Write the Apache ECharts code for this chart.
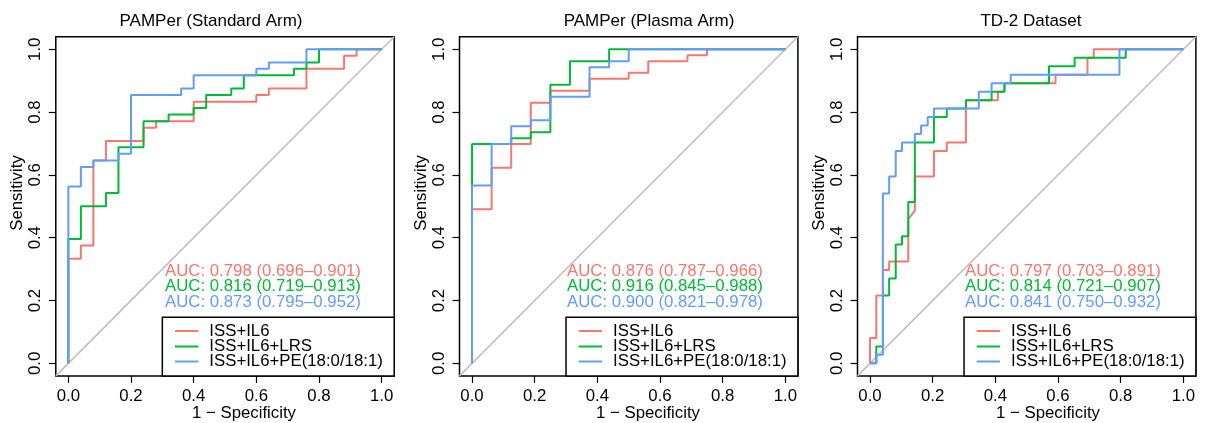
<!DOCTYPE html>
<html>
<head>
<meta charset="utf-8">
<script src="https://cdn.jsdelivr.net/npm/echarts@6/dist/echarts.min.js"></script>
<style>
html,body{margin:0;padding:0;background:#fff;}
#chart{width:1206px;height:423px;}
</style>
</head>
<body>
<div id="chart"></div>
<script>
// ---------------- data ----------------
const panelTitles = ['PAMPer (Standard Arm)', 'PAMPer (Plasma Arm)', 'TD-2 Dataset'];
const modelNames = ['ISS+IL6', 'ISS+IL6+LRS', 'ISS+IL6+PE(18:0/18:1)'];
const tickValues = [0, 0.2, 0.4, 0.6, 0.8, 1.0];
const xAxisName = '1 \u2212 Specificity';
const yAxisName = 'Sensitivity';

const aucText1 = ['AUC: 0.798 (0.696\u20130.901)', 'AUC: 0.816 (0.719\u20130.913)', 'AUC: 0.873 (0.795\u20130.952)'];
const aucText2 = ['AUC: 0.876 (0.787\u20130.966)', 'AUC: 0.916 (0.845\u20130.988)', 'AUC: 0.900 (0.821\u20130.978)'];
const aucText3 = ['AUC: 0.797 (0.703\u20130.891)', 'AUC: 0.814 (0.721\u20130.907)', 'AUC: 0.841 (0.750\u20130.932)'];

// ROC coordinates [1 - specificity, sensitivity]
const p1Red = [[0,0],[0,0.333],[0.04,0.333],[0.04,0.375],[0.08,0.375],[0.08,0.646],[0.12,0.646],[0.12,0.708],[0.24,0.708],[0.24,0.75],[0.28,0.75],[0.28,0.771],[0.40,0.771],[0.40,0.833],[0.60,0.833],[0.60,0.854],[0.64,0.854],[0.64,0.875],[0.76,0.875],[0.76,0.938],[0.88,0.938],[0.88,0.979],[0.92,0.979],[0.92,1],[1,1]];
const p1Green = [[0,0],[0,0.396],[0.04,0.396],[0.04,0.5],[0.12,0.5],[0.12,0.542],[0.16,0.542],[0.16,0.688],[0.24,0.688],[0.24,0.771],[0.32,0.771],[0.32,0.792],[0.40,0.792],[0.40,0.813],[0.44,0.813],[0.44,0.854],[0.52,0.854],[0.52,0.875],[0.56,0.875],[0.56,0.917],[0.72,0.917],[0.72,0.938],[0.76,0.938],[0.76,0.958],[0.80,0.958],[0.80,1],[1,1]];
const p1Blue = [[0,0],[0,0.563],[0.04,0.563],[0.04,0.625],[0.08,0.625],[0.08,0.646],[0.16,0.646],[0.16,0.667],[0.20,0.667],[0.20,0.854],[0.36,0.854],[0.36,0.875],[0.40,0.875],[0.40,0.917],[0.60,0.917],[0.60,0.938],[0.64,0.938],[0.64,0.958],[0.76,0.958],[0.76,1],[1,1]];

const p2Red = [[0,0],[0,0.491],[0.0625,0.491],[0.0625,0.623],[0.125,0.623],[0.125,0.698],[0.1875,0.698],[0.1875,0.830],[0.25,0.830],[0.25,0.868],[0.375,0.868],[0.375,0.906],[0.5,0.906],[0.5,0.925],[0.5625,0.925],[0.5625,0.962],[0.6875,0.962],[0.6875,0.981],[0.75,0.981],[0.75,1],[1,1]];
const p2Green = [[0,0],[0,0.698],[0.125,0.698],[0.125,0.717],[0.1875,0.717],[0.1875,0.736],[0.25,0.736],[0.25,0.887],[0.3125,0.887],[0.3125,0.962],[0.4375,0.962],[0.4375,1],[1,1]];
const p2Blue = [[0,0],[0,0.566],[0.0625,0.566],[0.0625,0.698],[0.125,0.698],[0.125,0.755],[0.1875,0.755],[0.1875,0.774],[0.25,0.774],[0.25,0.849],[0.375,0.849],[0.375,0.943],[0.4375,0.943],[0.4375,0.962],[0.5,0.962],[0.5,1],[1,1]];

const p3Red = [[0,0],[0,0.081],[0.020,0.081],[0.020,0.216],[0.041,0.216],[0.041,0.297],[0.061,0.297],[0.061,0.324],[0.122,0.324],[0.122,0.459],[0.143,0.486],[0.143,0.595],[0.204,0.595],[0.204,0.676],[0.245,0.676],[0.245,0.703],[0.306,0.703],[0.306,0.838],[0.408,0.838],[0.408,0.865],[0.429,0.865],[0.429,0.892],[0.592,0.892],[0.592,0.919],[0.694,0.919],[0.694,0.973],[0.714,0.973],[0.714,1],[1,1]];
const p3Green = [[0,0],[0.020,0],[0.020,0.054],[0.041,0.054],[0.041,0.216],[0.061,0.216],[0.061,0.270],[0.082,0.270],[0.082,0.378],[0.102,0.378],[0.102,0.405],[0.122,0.405],[0.122,0.514],[0.143,0.514],[0.143,0.703],[0.204,0.703],[0.204,0.784],[0.245,0.784],[0.245,0.811],[0.306,0.811],[0.306,0.838],[0.388,0.838],[0.388,0.865],[0.429,0.865],[0.429,0.892],[0.571,0.892],[0.571,0.946],[0.653,0.946],[0.653,0.973],[0.816,0.973],[0.816,1],[1,1]];
const p3Blue = [[0,0],[0.020,0],[0.020,0.027],[0.041,0.027],[0.041,0.541],[0.061,0.541],[0.061,0.595],[0.082,0.595],[0.082,0.676],[0.102,0.676],[0.102,0.703],[0.143,0.703],[0.143,0.730],[0.163,0.730],[0.163,0.757],[0.184,0.757],[0.184,0.784],[0.204,0.784],[0.204,0.811],[0.347,0.811],[0.347,0.865],[0.388,0.865],[0.388,0.892],[0.449,0.892],[0.449,0.919],[0.796,0.919],[0.796,1],[1,1]];

// ---------------- styling / layout ----------------
const COLORS = ['#F8766D', '#00BA38', '#619CFF'];
const FONT = '"Liberation Sans", Arial, Helvetica, sans-serif';
const FS = 16.8;
const AX_MIN = -0.04, AX_MAX = 1.04;

const panels = [
  {left: 55.8, titleX: 211, xlabX: 244, curves: [p1Red, p1Green, p1Blue], auc: aucText1, aucDx: 96.7},
  {left: 459.5, titleX: 649, xlabX: 648, curves: [p2Red, p2Green, p2Blue], auc: aucText2, aucDx: 95},
  {left: 857.5, titleX: 1031, xlabX: 1048, curves: [p3Red, p3Green, p3Blue], auc: aucText3, aucDx: 95}
];
const GRID_TOP = 36.7, GRID_W = 338.4, GRID_H = 339.2;
const pxPerUnit = GRID_W / (AX_MAX - AX_MIN);

const grids = [], xAxes = [], yAxes = [], series = [], graphics = [];

panels.forEach((p, i) => {
  grids.push({left: p.left, top: GRID_TOP, width: GRID_W, height: GRID_H,
    show: true, borderColor: '#000', borderWidth: 1.5, backgroundColor: 'transparent'});
  xAxes.push({gridIndex: i, type: 'value', min: AX_MIN, max: AX_MAX, position: 'bottom',
    axisLine: {show: false, onZero: false}, splitLine: {show: false},
    axisTick: {show: true, inside: false, length: 7, customValues: tickValues, lineStyle: {color: '#000', width: 1.2}},
    axisLabel: {show: true, customValues: tickValues, margin: 12, color: '#000', fontFamily: FONT, fontSize: FS,
      formatter: v => v.toFixed(1)}});
  yAxes.push({gridIndex: i, type: 'value', min: AX_MIN, max: AX_MAX, position: 'left',
    axisLine: {show: false, onZero: false}, splitLine: {show: false},
    axisTick: {show: true, inside: false, length: 7, customValues: tickValues, lineStyle: {color: '#000', width: 1.2}},
    axisLabel: {show: true, customValues: tickValues, rotate: 90, margin: 12, color: '#000', fontFamily: FONT, fontSize: FS,
      formatter: v => v.toFixed(1)}});

  series.push({type: 'line', xAxisIndex: i, yAxisIndex: i, silent: true, symbol: 'none',
    data: [[AX_MIN, AX_MIN], [AX_MAX, AX_MAX]], lineStyle: {color: '#BEBEBE', width: 1.5}, z: 1});
  p.curves.forEach((c, k) => {
    series.push({type: 'line', name: modelNames[k], xAxisIndex: i, yAxisIndex: i, symbol: 'none',
      data: c, lineStyle: {color: COLORS[k], width: 2}, itemStyle: {color: COLORS[k]}, z: 2 + k, animation: false});
  });

  const x0 = p.left - AX_MIN * pxPerUnit; // pixel of data x = 0
  graphics.push({type: 'text', style: {text: panelTitles[i], x: p.titleX, y: 21, align: 'center', verticalAlign: 'middle',
    font: '17px ' + FONT, fill: '#000'}});
  graphics.push({type: 'text', style: {text: xAxisName, x: p.xlabX, y: 413, align: 'center', verticalAlign: 'middle',
    font: FS + 'px ' + FONT, fill: '#000'}});
  graphics.push({type: 'text', x: p.left - 38.5, y: 193, rotation: Math.PI / 2,
    style: {text: yAxisName, x: 0, y: 0, align: 'center', verticalAlign: 'middle', font: FS + 'px ' + FONT, fill: '#000'}});
  const aucY = [271, 286.8, 302.6];
  p.auc.forEach((t, k) => {
    graphics.push({type: 'text', style: {text: t, x: x0 + p.aucDx, y: aucY[k], align: 'left', verticalAlign: 'middle',
      font: FS + 'px ' + FONT, fill: COLORS[k]}});
  });
  const boxL = x0 + 94, boxT = 317.3, boxR = p.left + GRID_W, boxB = GRID_TOP + GRID_H;
  graphics.push({type: 'rect', shape: {x: boxL, y: boxT, width: boxR - boxL, height: boxB - boxT},
    style: {fill: '#fff', stroke: '#000', lineWidth: 1.5}, z: 10});
  const legY = [331, 346.5, 361.5];
  modelNames.forEach((n, k) => {
    graphics.push({type: 'line', shape: {x1: x0 + 106.7, y1: legY[k], x2: x0 + 130, y2: legY[k]},
      style: {stroke: COLORS[k], lineWidth: 2}, z: 11});
    graphics.push({type: 'text', style: {text: n, x: x0 + 141, y: legY[k], align: 'left', verticalAlign: 'middle',
      font: FS + 'px ' + FONT, fill: '#000'}, z: 11});
  });
});

const chart = echarts.init(document.getElementById('chart'), null, {renderer: 'canvas'});
chart.setOption({
  animation: false,
  backgroundColor: '#fff',
  grid: grids,
  xAxis: xAxes,
  yAxis: yAxes,
  series: series,
  graphic: graphics
});
</script>
</body>
</html>
